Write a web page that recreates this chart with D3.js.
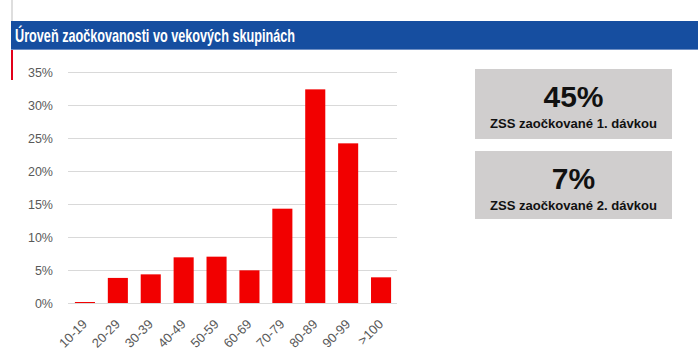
<!DOCTYPE html>
<html><head><meta charset="utf-8">
<script src="https://cdn.jsdelivr.net/npm/d3@7/dist/d3.min.js"></script>
<style>html,body{margin:0;padding:0;background:#fff;}svg{display:block;}</style>
</head><body>
<script>
const categories = ["10-19","20-29","30-39","40-49","50-59","60-69","70-79","80-89","90-99",">100"];
const values = [0.0015,0.038,0.0434,0.0692,0.0702,0.0495,0.1429,0.3237,0.2419,0.0389];
const yTicks = [0,0.05,0.10,0.15,0.20,0.25,0.30,0.35];
const title = "Úroveň zaočkovanosti vo vekových skupinách";
const kpiValues = ["45%","7%"];
const kpiLabels = ["ZSS zaočkované 1. dávkou","ZSS zaočkované 2. dávkou"];

const W=699,H=359;
const svg=d3.select("body").append("svg").attr("width",W).attr("height",H);
svg.append("rect").attr("width",W).attr("height",H).attr("fill","#fff");

// decorations
svg.append("rect").attr("x",11).attr("y",0).attr("width",2).attr("height",22).attr("fill","#dedede");
svg.append("rect").attr("x",11).attr("y",21).attr("width",687).attr("height",29).attr("fill","#164ea0");
svg.append("rect").attr("x",11).attr("y",49).attr("width",687).attr("height",1).attr("fill","#6f8fc4");
svg.append("rect").attr("x",11).attr("y",50).attr("width",2).attr("height",30).attr("fill","#e2001a");
svg.append("text").attr("x",15).attr("y",41.5).attr("fill","#fff")
  .attr("font-family","Liberation Sans, Arial, sans-serif").attr("font-weight","bold").attr("font-size",19)
  .attr("textLength",280).attr("lengthAdjust","spacingAndGlyphs").text(title);

// chart
const x=d3.scaleBand().domain(categories).range([68,398]).paddingInner(0.39).paddingOuter(0.21);
const y=d3.scaleLinear().domain([0,0.35]).range([303,72]);

const grid=svg.append("g");
grid.selectAll("line").data(yTicks).join("line")
  .attr("x1",68).attr("x2",397).attr("y1",d=>Math.round(y(d))+0.5).attr("y2",d=>Math.round(y(d))+0.5)
  .attr("stroke","#d9d9d9").attr("stroke-width",1);

const yAxis=d3.axisLeft(y).tickValues(yTicks).tickFormat(d3.format(".0%")).tickSize(0).tickPadding(0);
const ya=svg.append("g").attr("transform","translate(53,0)").call(yAxis);
ya.select(".domain").remove();
ya.selectAll("text").attr("font-family","Liberation Sans, Arial, sans-serif").attr("font-size",12.5).attr("fill","#595959");

svg.append("g").selectAll("rect").data(values).join("rect")
  .attr("x",(d,i)=>x(categories[i])).attr("width",x.bandwidth())
  .attr("y",d=>y(d)).attr("height",d=>y(0)-y(d)).attr("fill","#f20000");

const xAxis=d3.axisBottom(x).tickSize(0).tickPadding(0);
const xa=svg.append("g").call(xAxis);
xa.select(".domain").remove();
xa.selectAll(".tick").attr("transform",null);
xa.selectAll(".tick text")
  .attr("transform",d=>`translate(${x(d)+x.bandwidth()/2+3},325) rotate(-45)`)
  .attr("x",0).attr("y",0).attr("dy",0)
  .attr("text-anchor","end")
  .attr("font-family","Liberation Sans, Arial, sans-serif").attr("font-size",13).attr("fill","#595959");

// KPI boxes
const boxes=[{y:69,h:70},{y:151,h:68}];
const kg=svg.append("g");
boxes.forEach((b,i)=>{
  kg.append("rect").attr("x",475).attr("y",b.y).attr("width",197).attr("height",b.h).attr("fill","#d0cece");
  kg.append("text").attr("x",573.5).attr("y",b.y+38).attr("text-anchor","middle")
    .attr("font-family","Liberation Sans, Arial, sans-serif").attr("font-weight","bold").attr("font-size",30)
    .attr("fill","#111").text(kpiValues[i]);
  kg.append("text").attr("x",573.5).attr("y",b.y+59).attr("text-anchor","middle")
    .attr("font-family","Liberation Sans, Arial, sans-serif").attr("font-weight","bold").attr("font-size",12.5)
    .attr("fill","#111").attr("textLength",167).attr("lengthAdjust","spacingAndGlyphs").text(kpiLabels[i]);
});
</script>
</body></html>
